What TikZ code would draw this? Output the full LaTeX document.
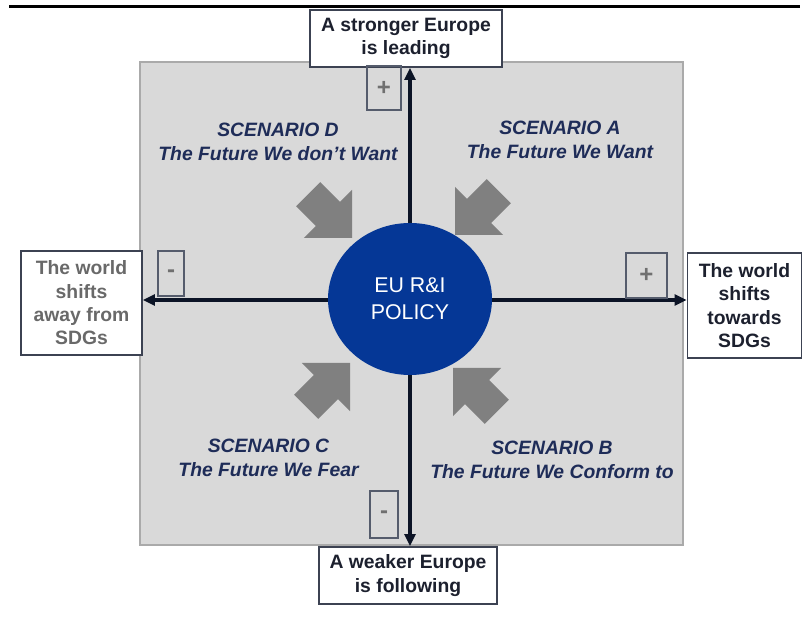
\documentclass[tikz,border=0pt]{standalone}
\usepackage{fontspec}
\setmainfont{Liberation Sans}
\usetikzlibrary{arrows.meta,shapes.geometric}
\definecolor{bggray}{RGB}{217,217,217}
\definecolor{bgborder}{RGB}{170,170,170}
\definecolor{polblue}{RGB}{5,55,150}
\definecolor{axiscol}{RGB}{12,20,38}
\definecolor{boxborder}{RGB}{60,66,82}
\definecolor{boxtext}{RGB}{28,32,46}
\definecolor{greytext}{RGB}{105,105,105}
\definecolor{signcol}{RGB}{112,112,112}
\definecolor{signborder}{RGB}{85,92,108}
\definecolor{scencol}{RGB}{30,44,88}
\definecolor{arrowgray}{RGB}{128,128,128}
\tikzset{
  labelbox/.style={draw=boxborder, line width=1.2pt, fill=white, align=center,
    inner sep=0pt, font=\fontsize{14.5}{17.5}\selectfont\bfseries, text=boxtext},
  signbox/.style={draw=signborder, line width=1pt, inner sep=0pt,
    font=\fontsize{18}{18}\selectfont\bfseries, text=signcol},
  scenario/.style={align=center, text=scencol,
    font=\fontsize{14.5}{18}\selectfont\bfseries\itshape},
  axis/.style={draw=axiscol, line width=2.5pt, {Triangle[length=9pt,width=8pt]}-{Triangle[length=9pt,width=8pt]}},
  blockarrow/.pic={\fill[arrowgray] (0,0) -- (-34,34) -- (-34,17) -- (-62,17) -- (-62,-17) -- (-34,-17) -- (-34,-34) -- cycle;}
}
\begin{document}
\begin{tikzpicture}[x=0.75pt,y=0.75pt]
\useasboundingbox (0,0) rectangle (803,627);
\fill[white] (0,0) rectangle (803,627);
% top rule
\coordinate (ruleL) at (9,620.5);
\coordinate (ruleR) at (800,620.5);
\draw[black, line width=1.6pt] (ruleL) -- (ruleR);
% grey field
\node[draw=bgborder, fill=bggray, line width=0.9pt, minimum width=407.25pt, minimum height=362.25pt, inner sep=0pt] (field) at (411.5,323.5) {};
% block arrows
\pic[rotate=-45] at (352,389) {blockarrow};
\pic[rotate=-135] at (455,392) {blockarrow};
\pic[rotate=45] at (350,264) {blockarrow};
\pic[rotate=135] at (453,259) {blockarrow};
% label boxes
\node[labelbox, minimum width=144pt, minimum height=42.75pt] (top) at (406,588.5) {A stronger Europe\\is leading};
\node[labelbox, minimum width=133.5pt, minimum height=42.75pt] (bot) at (408,51.5) {A weaker Europe\\is following};
\node[labelbox, minimum width=90.75pt, minimum height=78pt, text=greytext] (left) at (81.5,324) {The world\\shifts\\away from\\SDGs};
\node[labelbox, minimum width=85.5pt, minimum height=78.75pt] (right) at (744.5,321.5) {The world\\shifts\\towards\\SDGs};
% centre
\coordinate (ctr) at (410,327);
% axes
\draw[axis] (top.south -| ctr) -- (bot.north -| ctr);
\draw[axis] (left.east |- ctr) -- (right.west |- ctr);
% policy
\node[ellipse, fill=polblue, minimum width=123pt, minimum height=114pt, inner sep=0pt, text=white, align=center,
  font=\fontsize{16}{20}\selectfont] (pol) at (410,328) {EU R\&I\\POLICY};
% sign boxes
\node[signbox, minimum width=25.5pt, minimum height=33pt] (sgnT) at (384,539) {+};
\node[signbox, minimum width=19.5pt, minimum height=33.75pt] (sgnL) at (171,353.5) {-};
\node[signbox, minimum width=30.75pt, minimum height=33.75pt] (sgnR) at (646.5,351.5) {+};
\node[signbox, minimum width=21pt, minimum height=35.25pt] (sgnB) at (384,112.5) {-};
% scenarios
\node[scenario] (scD) at (278,485) {SCENARIO D\\The Future We don’t Want};
\node[scenario] (scA) at (560,487) {SCENARIO A\\The Future We Want};
\node[scenario] (scC) at (268.5,169.5) {SCENARIO C\\The Future We Fear};
\node[scenario] (scB) at (552,167.5) {SCENARIO B\\The Future We Conform to};
\end{tikzpicture}
\end{document}
